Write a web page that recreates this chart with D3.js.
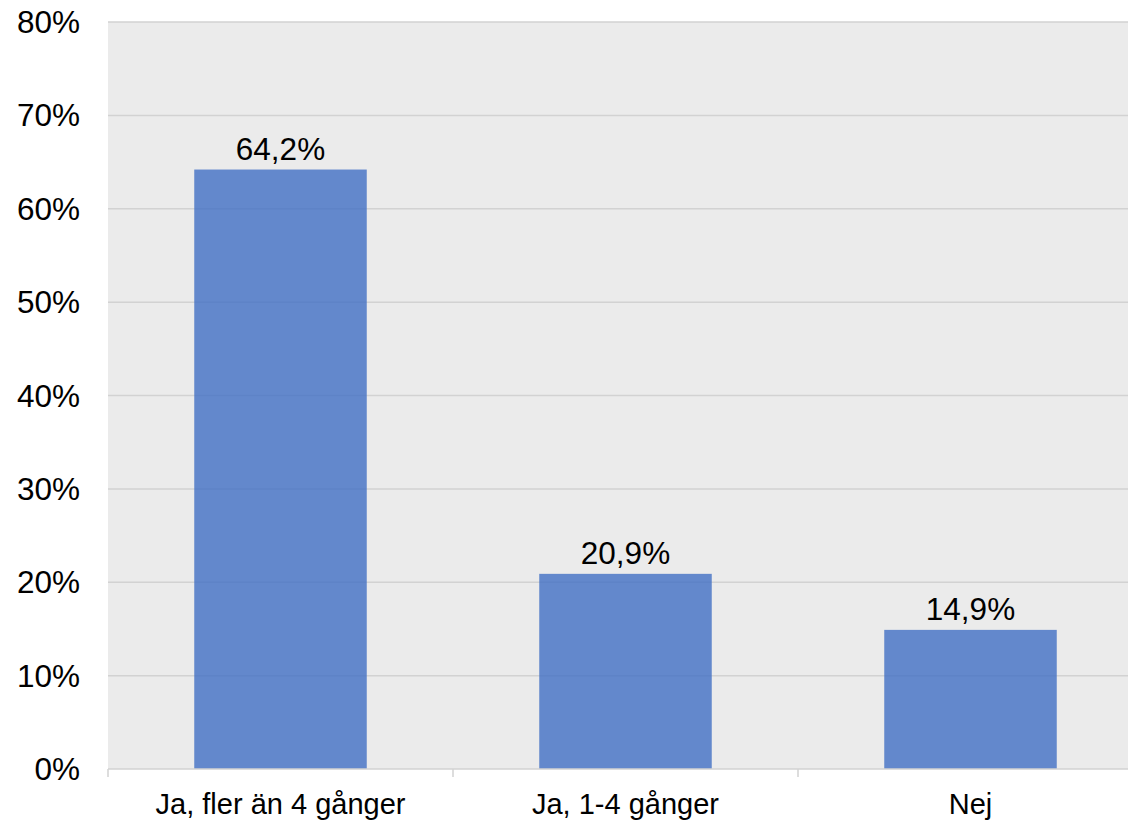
<!DOCTYPE html>
<html>
<head>
<meta charset="utf-8">
<script src="https://cdn.jsdelivr.net/npm/d3@7"></script>
<style>
  html, body { margin: 0; padding: 0; background: #ffffff; }
  svg { display: block; }
  text { font-family: "Liberation Sans", Arial, sans-serif; fill: #000; }
</style>
</head>
<body>
<svg id="chart" width="1128" height="821"></svg>
<script>
const categories = ["Ja, fler än 4 gånger", "Ja, 1-4 gånger", "Nej"];
const values = [64.2, 20.9, 14.9];
const valueLabels = ["64,2%", "20,9%", "14,9%"];
const yTicks = [0, 10, 20, 30, 40, 50, 60, 70, 80];

const svg = d3.select("#chart");
const plotLeft = 108, plotRight = 1143, plotTop = 22, plotBottom = 769;

const x = d3.scaleBand().domain(categories).range([plotLeft, plotRight]).paddingInner(0.5).paddingOuter(0.25);
const xEdge = d3.scaleBand().domain(categories).range([plotLeft, plotRight]).padding(0);
const y = d3.scaleLinear().domain([0, 80]).range([plotBottom, plotTop]);

// background
svg.append("rect").attr("x", plotLeft).attr("y", plotTop).attr("width", 1128 - plotLeft).attr("height", plotBottom - plotTop).attr("fill", "#ebebeb");

// gridlines
svg.append("g").selectAll("line").data(yTicks.filter(d => d > 0)).join("line")
  .attr("x1", plotLeft).attr("x2", 1128)
  .attr("y1", d => y(d)).attr("y2", d => y(d))
  .attr("stroke", "#d2d2d2").attr("stroke-width", 1.5);

// y labels
svg.append("g").selectAll("text").data(yTicks).join("text")
  .attr("x", 80).attr("y", d => y(d)).attr("dy", "0.35em")
  .attr("text-anchor", "end").attr("font-size", 31.5)
  .text(d => d + "%");

// bars
svg.append("g").selectAll("rect").data(values).join("rect")
  .attr("x", (d, i) => x(categories[i]))
  .attr("width", x.bandwidth())
  .attr("y", d => y(d))
  .attr("height", d => plotBottom - y(d))
  .attr("fill", "#4472c4").attr("fill-opacity", 0.82);

// value labels
svg.append("g").selectAll("text").data(values).join("text")
  .attr("x", (d, i) => x(categories[i]) + x.bandwidth() / 2)
  .attr("y", d => y(d) - 10)
  .attr("text-anchor", "middle").attr("font-size", 31.5)
  .text((d, i) => valueLabels[i]);

// x axis line
svg.append("line").attr("x1", plotLeft).attr("x2", 1128).attr("y1", plotBottom).attr("y2", plotBottom)
  .attr("stroke", "#d2d2d2").attr("stroke-width", 1.5);

// tick marks at band edges
const edges = categories.map(c => xEdge(c));
svg.append("g").selectAll("line").data(edges).join("line")
  .attr("x1", d => d).attr("x2", d => d)
  .attr("y1", plotBottom).attr("y2", plotBottom + 8)
  .attr("stroke", "#d2d2d2").attr("stroke-width", 1.5);

// category labels
svg.append("g").selectAll("text").data(categories).join("text")
  .attr("x", d => x(d) + x.bandwidth() / 2)
  .attr("y", 814)
  .attr("text-anchor", "middle").attr("font-size", 29)
  .text(d => d);
</script>
</body>
</html>
